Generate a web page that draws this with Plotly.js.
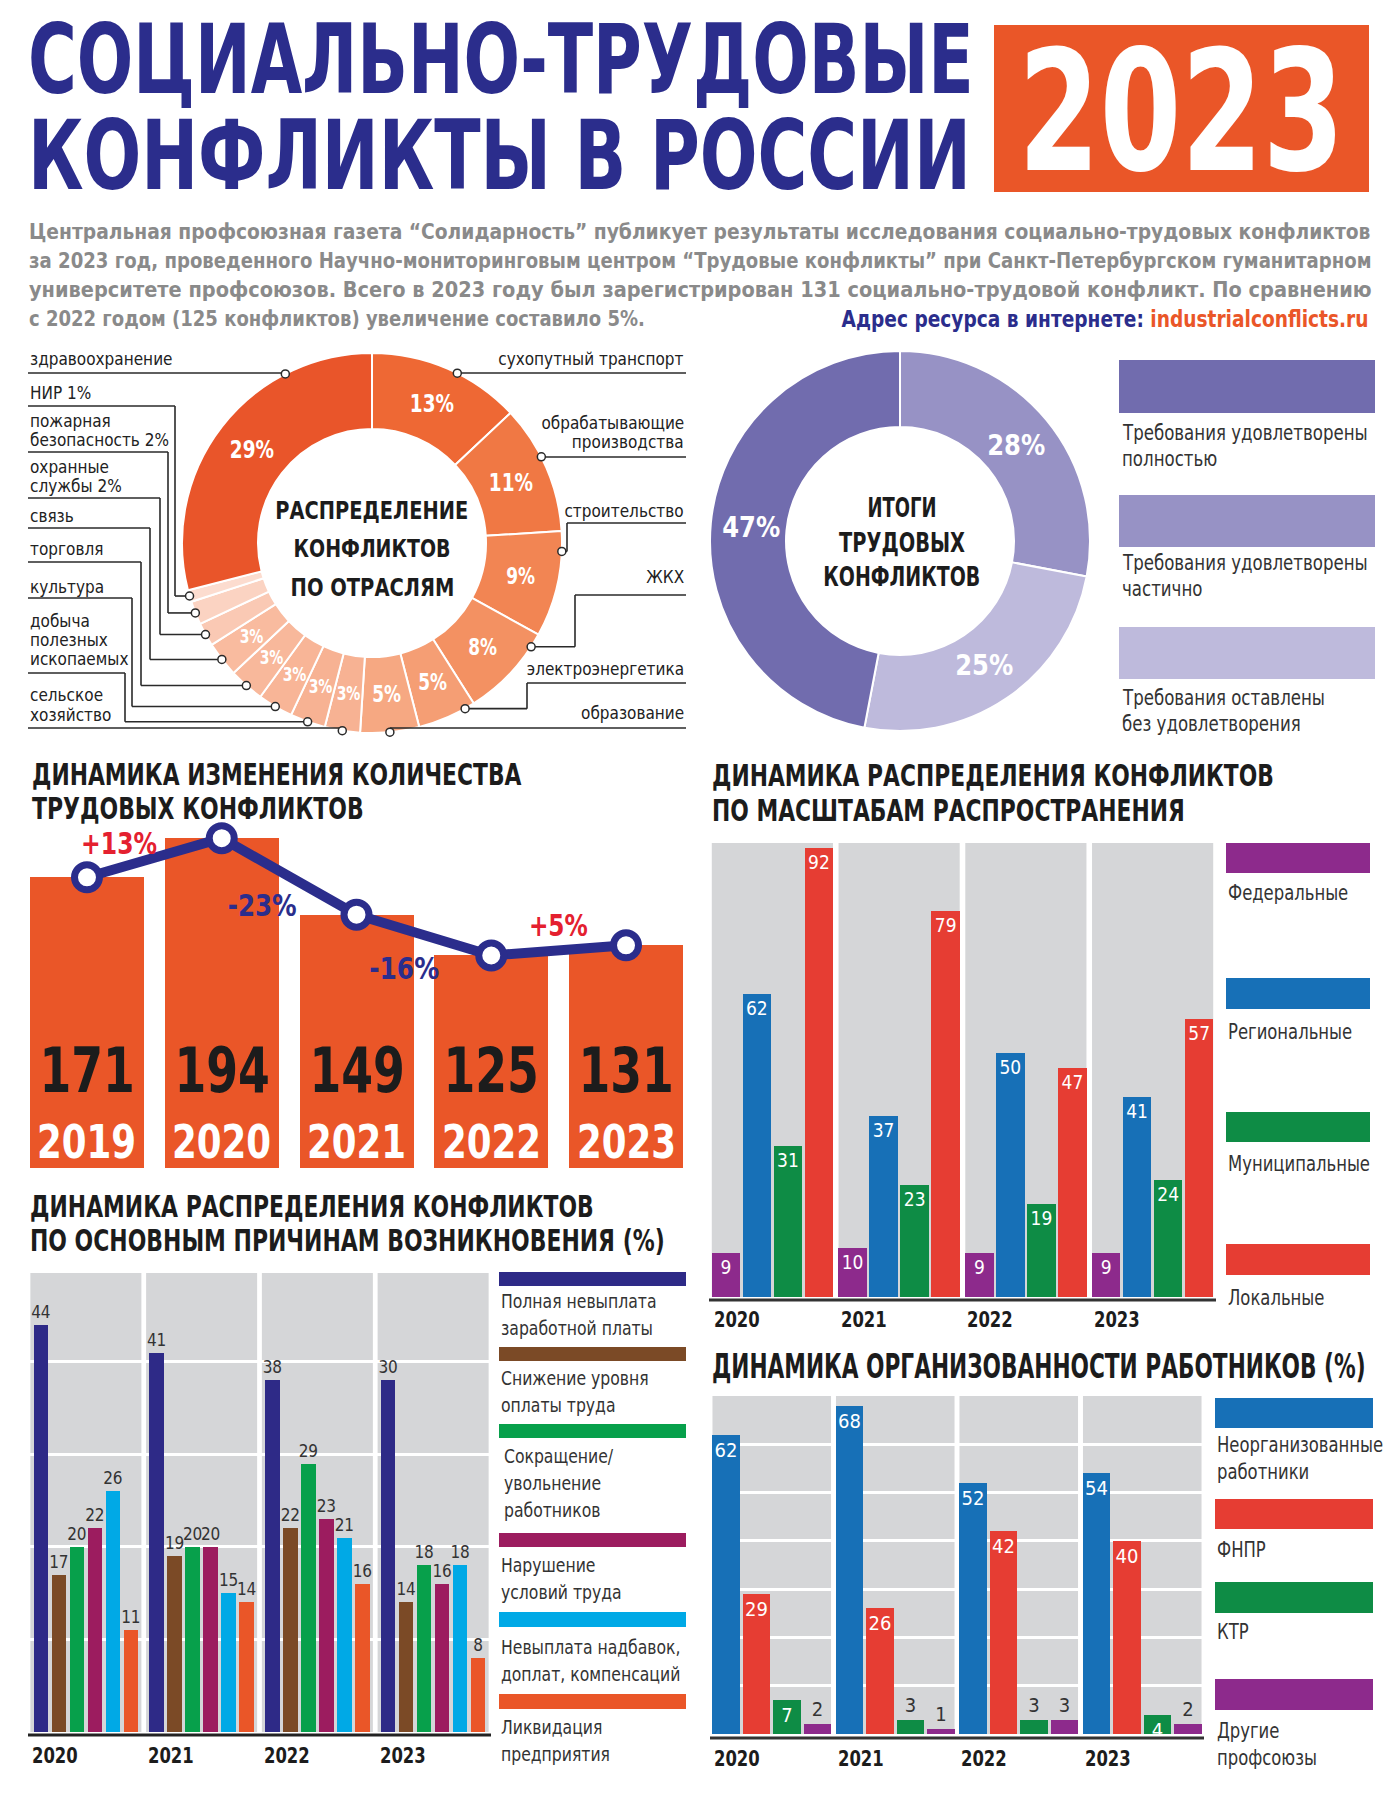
<!DOCTYPE html>
<html><head><meta charset="utf-8">
<script src="https://cdn.plot.ly/plotly-3.0.1.min.js"></script>
<style>html,body{margin:0;padding:0;background:#fff}#chart{width:1400px;height:1800px}</style>
</head><body><div id="chart"></div>
<script>
// ================= DATA =================
const titleLines = ['СОЦИАЛЬНО-ТРУДОВЫЕ', 'КОНФЛИКТЫ В РОССИИ'];
const titleYear = '2023';
const introLines = [
  'Центральная профсоюзная газета “Солидарность” публикует результаты исследования социально-трудовых конфликтов',
  'за 2023 год, проведенного Научно-мониторинговым центром “Трудовые конфликты” при Санкт-Петербургском гуманитарном',
  'университете профсоюзов. Всего в 2023 году был зарегистрирован 131 социально-трудовой конфликт. По сравнению',
  'с 2022 годом (125 конфликтов) увеличение составило 5%.'
];
const siteCaption = 'Адрес ресурса в интернете:';
const siteUrl = 'industrialconflicts.ru';

const sectorTitle = ['РАСПРЕДЕЛЕНИЕ', 'КОНФЛИКТОВ', 'ПО ОТРАСЛЯМ'];
const sectorNames = ['сухопутный транспорт', 'обрабатывающие производства', 'строительство', 'ЖКХ',
  'электроэнергетика', 'образование', 'сельское хозяйство', 'добыча полезных ископаемых', 'культура',
  'торговля', 'связь', 'охранные службы', 'пожарная безопасность', 'НИР', 'здравоохранение'];
const sectorShares = [13, 11, 9, 8, 5, 5, 3, 3, 3, 3, 3, 2, 2, 1, 29];

const outcomeTitle = ['ИТОГИ', 'ТРУДОВЫХ', 'КОНФЛИКТОВ'];
const outcomeNames = ['Требования удовлетворены|полностью', 'Требования удовлетворены|частично', 'Требования оставлены|без удовлетворения'];
const outcomeShares = [47, 28, 25];

const countTitle = ['ДИНАМИКА ИЗМЕНЕНИЯ КОЛИЧЕСТВА', 'ТРУДОВЫХ КОНФЛИКТОВ'];
const countYears = ['2019', '2020', '2021', '2022', '2023'];
const countValues = [171, 194, 149, 125, 131];
const countChanges = ['+13%', '-23%', '-16%', '+5%'];

const scaleTitle = ['ДИНАМИКА РАСПРЕДЕЛЕНИЯ КОНФЛИКТОВ', 'ПО МАСШТАБАМ РАСПРОСТРАНЕНИЯ'];
const scaleYears = ['2020', '2021', '2022', '2023'];
const scaleNames = ['Федеральные', 'Региональные', 'Муниципальные', 'Локальные'];
const scaleFederal = [9, 10, 9, 9];
const scaleRegional = [62, 37, 50, 41];
const scaleMunicipal = [31, 23, 19, 24];
const scaleLocal = [92, 79, 47, 57];

const causeTitle = ['ДИНАМИКА РАСПРЕДЕЛЕНИЯ КОНФЛИКТОВ', 'ПО ОСНОВНЫМ ПРИЧИНАМ ВОЗНИКНОВЕНИЯ (%)'];
const causeYears = ['2020', '2021', '2022', '2023'];
const causeNames = ['Полная невыплата|заработной платы', 'Снижение уровня|оплаты труда', 'Сокращение/|увольнение|работников',
  'Нарушение|условий труда', 'Невыплата надбавок,|доплат, компенсаций', 'Ликвидация|предприятия'];
const causeWageArrears = [44, 41, 38, 30];        // printed values
const causeWageArrearsBar = [44, 41, 38, 38];     // bar heights as drawn in the source (2023 bar reaches the 38 level)
const causeWageCut = [17, 19, 22, 14];
const causeLayoffs = [20, 20, 29, 18];
const causeConditions = [22, 20, 23, 16];
const causeBonuses = [26, 15, 21, 18];
const causeLiquidation = [11, 14, 16, 8];

const orgTitle = 'ДИНАМИКА ОРГАНИЗОВАННОСТИ РАБОТНИКОВ (%)';
const orgYears = ['2020', '2021', '2022', '2023'];
const orgNames = ['Неорганизованные|работники', 'ФНПР', 'КТР', 'Другие|профсоюзы'];
const orgUnorganized = [62, 68, 52, 54];
const orgFNPR = [29, 26, 42, 40];
const orgKTR = [7, 3, 3, 4];
const orgOther = [2, 1, 3, 2];

// ================= STYLE / HELPERS =================
const W = 1400, H = 1800;
const FONT = "'DejaVu Sans Condensed','Liberation Sans Narrow',sans-serif";
const NAVY = '#2b2d8c', ORANGE = '#ea5628', INK = '#1c1c1c', GRAYTXT = '#333333', PANEL = '#d5d6d8';
const px = x => x / W, py = y => 1 - y / H;
const ann = [], fit = [], shapes = [], traces = [];

function pushAnn(a, f) { ann.push(a); fit.push(f || {}); }
function text(x, y, s, o = {}) {
  pushAnn({xref: 'paper', yref: 'paper', x: px(x), y: py(y), text: s, showarrow: false,
    xanchor: o.xa || 'left', yanchor: o.ya || 'middle', align: o.xa || 'left',
    font: {family: FONT, size: o.size || 19, color: o.color || INK, weight: o.weight || 'normal'}},
    {tw: o.tw, sx: o.sx});
}
function textLines(x, y, arr, gap, o, tws) { arr.forEach((s, k) => text(x, y + k * gap, s, Object.assign({}, o, tws ? {tw: tws[k]} : {}))); }
function rect(x0, y0, x1, y1, color) {
  shapes.push({type: 'rect', xref: 'paper', yref: 'paper', x0: px(x0), x1: px(x1), y0: py(y1), y1: py(y0),
    fillcolor: color, line: {width: 0}, layer: 'below'});
}
function seg(x0, y0, x1, y1, color, w) {
  shapes.push({type: 'line', xref: 'paper', yref: 'paper', x0: px(x0), y0: py(y0), x1: px(x1), y1: py(y1),
    line: {color: color, width: w}, layer: 'above'});
}
function dot(x, y, r) {
  shapes.push({type: 'circle', xref: 'paper', yref: 'paper', x0: px(x - r), x1: px(x + r), y0: py(y + r), y1: py(y - r),
    fillcolor: '#ffffff', line: {color: '#2a2a2a', width: 1.5}, layer: 'above'});
}
function polar(cx, cy, r, deg) { const a = deg * Math.PI / 180; return [cx + r * Math.sin(a), cy - r * Math.cos(a)]; }
function sliceAngles(vals) {
  const tot = vals.reduce((a, b) => a + b, 0); let c = 0;
  return vals.map(v => { const s = c / tot * 360; c += v; return [s, c / tot * 360]; });
}

// ================= HEADER =================
rect(994, 25, 1369, 192, ORANGE);
text(26, 59, titleLines[0], {size: 97, weight: 'bold', color: NAVY, tw: 946});
text(26, 155, titleLines[1], {size: 97, weight: 'bold', color: NAVY, tw: 943});
text(1181, 112, titleYear, {xa: 'center', size: 168, weight: 'bold', color: '#ffffff', tw: 326});
[232, 261, 290].forEach((y, k) => text(27, y, introLines[k], {size: 21, weight: 'bold', color: '#8a8a8a', tw: 1343}));
text(27, 319, introLines[3], {size: 21, weight: 'bold', color: '#8a8a8a', tw: 616});
text(1371, 319, '<span style="color:' + NAVY + '">' + siteCaption + ' </span><span style="color:' + ORANGE + '">' + siteUrl + '</span>',
  {xa: 'right', size: 23, weight: 'bold', tw: 527});

// ================= SECTOR DONUT =================
const sc = {cx: 372, cy: 543, R: 190};
const sectorColors = ['#ee6834', '#f07844', '#f28553', '#f39162', '#f59e74', '#f6a882', '#f7b293', '#f7b293',
  '#f8b597', '#f8b89b', '#f9bb9f', '#fac9b4', '#fbd3c2', '#fcdccf', '#e9552a'];
traces.push({type: 'pie', values: sectorShares, labels: sectorNames, sort: false, direction: 'clockwise', rotation: 0,
  hole: 0.6, textinfo: 'none', hoverinfo: 'label+percent', showlegend: false,
  marker: {colors: sectorColors, line: {color: '#ffffff', width: 2}},
  domain: {x: [px(sc.cx - sc.R), px(sc.cx + sc.R)], y: [py(sc.cy + sc.R), py(sc.cy - sc.R)]}});
const secAng = sliceAngles(sectorShares);
sectorShares.forEach((v, i) => {
  if (v < 3) return;
  const [x, y] = polar(sc.cx, sc.cy, sc.R * 0.8, (secAng[i][0] + secAng[i][1]) / 2);
  text(x, y, v + '%', {xa: 'center', size: v >= 10 ? 25 : (v >= 5 ? 23 : 19), weight: 'bold', color: '#ffffff', sx: 0.82});
});
textLines(sc.cx, 510, sectorTitle, 38.5, {xa: 'center', size: 25, weight: 'bold'}, [193, 157, 164]);
// leader lines: slice index, side, first text line y, leader y, bend x, position inside slice, word breaks
const leaders = [
  {i: 14, side: 'L', ty: 358, ly: 373, bx: null, f: 0.74, br: []},
  {i: 13, side: 'L', ty: 393, ly: 406, bx: 175, f: 0.5, br: []},
  {i: 12, side: 'L', ty: 420, ly: 452, bx: 168, f: 0.5, br: [1]},
  {i: 11, side: 'L', ty: 466, ly: 498, bx: 160, f: 0.5, br: [1]},
  {i: 10, side: 'L', ty: 516, ly: 528, bx: 150, f: 0.5, br: []},
  {i: 9, side: 'L', ty: 549, ly: 562, bx: 141, f: 0.5, br: []},
  {i: 8, side: 'L', ty: 586, ly: 598, bx: 132, f: 0.5, br: []},
  {i: 7, side: 'L', ty: 620, ly: 673, bx: 125, f: 0.5, br: [1, 2]},
  {i: 6, side: 'L', ty: 695, ly: 728, bx: null, f: 0.5, br: [1]},
  {i: 0, side: 'R', ty: 358, ly: 373, bx: null, f: 0.57, br: []},
  {i: 1, side: 'R', ty: 422, ly: 457, bx: null, f: 0.41, br: [1]},
  {i: 2, side: 'R', ty: 510, ly: 523, bx: 567, f: 0.19, br: []},
  {i: 3, side: 'R', ty: 577, ly: 595, bx: 575, f: 0.15, br: []},
  {i: 4, side: 'R', ty: 668, ly: 683, bx: 527, f: 0.17, br: []},
  {i: 5, side: 'R', ty: 712, ly: 728, bx: null, f: 0.5, br: []}
];
leaders.forEach(L => {
  const v = sectorShares[L.i];
  const words = (sectorNames[L.i] + (v < 3 ? ' ' + v + '%' : '')).split(' ');
  const lines = []; let cur = [];
  words.forEach((w, k) => { cur.push(w); if (L.br.includes(k + 1)) { lines.push(cur.join(' ')); cur = []; } });
  if (cur.length) lines.push(cur.join(' '));
  const xs = L.side === 'L' ? 28 : 686;
  textLines(xs, L.ty, lines, 19.5, {xa: L.side === 'L' ? 'left' : 'right', size: 18.5, color: '#222', sx: 0.92});
  const a = secAng[L.i][0] + L.f * (secAng[L.i][1] - secAng[L.i][0]);
  const [dx, dy] = polar(sc.cx, sc.cy, sc.R, a);
  const bx = L.bx === null ? dx : L.bx;
  seg(xs, L.ly, bx, L.ly, '#2a2a2a', 1.6);
  if (Math.abs(dy - L.ly) > 0.5) seg(bx, L.ly, bx, dy, '#2a2a2a', 1.6);
  if (Math.abs(bx - dx) > 0.5) seg(bx, dy, dx, dy, '#2a2a2a', 1.6);
  dot(dx, dy, 4);
});

// ================= OUTCOME DONUT =================
const oc = {cx: 900, cy: 541, R: 190};
const outcomeColors = ['#716cae', '#9792c5', '#bebadc'];
const pieOrder = [1, 2, 0];   // clockwise from 12 o'clock as in the source
traces.push({type: 'pie', values: pieOrder.map(k => outcomeShares[k]), labels: pieOrder.map(k => outcomeNames[k].replace('|', ' ')),
  sort: false, direction: 'clockwise', rotation: 0, hole: 0.6, textinfo: 'none', hoverinfo: 'label+percent', showlegend: false,
  marker: {colors: pieOrder.map(k => outcomeColors[k]), line: {color: '#ffffff', width: 2}},
  domain: {x: [px(oc.cx - oc.R), px(oc.cx + oc.R)], y: [py(oc.cy + oc.R), py(oc.cy - oc.R)]}});
const outAng = sliceAngles(pieOrder.map(k => outcomeShares[k]));
pieOrder.forEach((k, j) => {
  const [x, y] = polar(oc.cx, oc.cy, oc.R * 0.79, (outAng[j][0] + outAng[j][1]) / 2);
  text(x, y, outcomeShares[k] + '%', {xa: 'center', size: 29, weight: 'bold', color: '#ffffff', tw: 58});
});
textLines(902, 508, outcomeTitle, 34.5, {xa: 'center', size: 26, weight: 'bold'}, [69, 126, 157]);
[[360, 413, 433], [495, 547, 563], [627, 679, 698]].forEach((b, k) => {
  rect(1119, b[0], 1375, b[1], outcomeColors[k]);
  textLines(1120, b[2], outcomeNames[k].split('|'), 26, {size: 21, color: GRAYTXT, sx: 0.88});
});

// ================= COUNT DYNAMICS =================
textLines(30, 774, countTitle, 34, {size: 31, weight: 'bold'}, [490, 332]);
traces.push({type: 'bar', x: countYears, y: countValues, xaxis: 'x', yaxis: 'y', width: 0.846,
  marker: {color: ORANGE}, hoverinfo: 'x+y', showlegend: false});
traces.push({type: 'scatter', mode: 'lines+markers', x: countYears, y: countValues, xaxis: 'x', yaxis: 'y', cliponaxis: false,
  line: {color: NAVY, width: 10}, marker: {size: 25, color: '#ffffff', line: {color: NAVY, width: 7}},
  hoverinfo: 'skip', showlegend: false});
countYears.forEach((yr, k) => {
  pushAnn({xref: 'x', yref: 'paper', x: k, y: py(1070), text: String(countValues[k]), showarrow: false, xanchor: 'center', yanchor: 'middle',
    font: {family: FONT, size: 62, weight: 'bold', color: INK}}, {sx: 0.82});
  pushAnn({xref: 'x', yref: 'paper', x: k, y: py(1142), text: yr, showarrow: false, xanchor: 'center', yanchor: 'middle',
    font: {family: FONT, size: 46, weight: 'bold', color: '#ffffff'}}, {sx: 0.86});
});
const changePos = [[0.24, 843], [1.30, 905], [2.35, 968], [3.50, 925]];
const changeW = [76, 69, 70, 59];
countChanges.forEach((c, k) => {
  pushAnn({xref: 'x', yref: 'paper', x: changePos[k][0], y: py(changePos[k][1]), text: c, showarrow: false,
    xanchor: 'center', yanchor: 'middle', font: {family: FONT, size: 31, weight: 'bold', color: c[0] === '+' ? '#e4202f' : NAVY}},
    {tw: changeW[k]});
});

// ================= GROUPED PANEL CHARTS =================
function panels(xa, ya, n, half) {
  for (let i = 0; i < n; i++) shapes.push({type: 'rect', xref: xa, yref: ya + ' domain', x0: i - half, x1: i + half, y0: 0, y1: 1,
    fillcolor: PANEL, line: {width: 0}, layer: 'below'});
}
function groupBars(xa, ya, years, series, colors, width, pitch, textOpts) {
  const first = -(pitch * (series.length - 1) + width) / 2;
  series.forEach((s, k) => {
    const t = {type: 'bar', x: years, y: s.y, xaxis: xa, yaxis: ya, width: width, offset: first + k * pitch,
      marker: {color: colors[k]}, text: s.labels.map(String), textangle: 0, constraintext: 'none', cliponaxis: false,
      hoverinfo: 'x+y', showlegend: false};
    Object.assign(t, textOpts(s));
    traces.push(t);
  });
}
function yearLabels(xa, years, half, y) {
  years.forEach((yr, i) => pushAnn({xref: xa, yref: 'paper', x: i - half, y: py(y), text: yr, showarrow: false,
    xanchor: 'left', yanchor: 'middle', align: 'left', font: {family: FONT, size: 21, weight: 'bold', color: INK}}, {sx: 0.87}));
}

// --- scale chart
textLines(710, 775, scaleTitle, 35, {size: 31, weight: 'bold'}, [562, 473]);
const scaleColors = ['#8d2a8c', '#1770b7', '#0e8c45', '#e63d33'];
panels('x2', 'y2', 4, 0.478);
groupBars('x2', 'y2', scaleYears,
  [scaleFederal, scaleRegional, scaleMunicipal, scaleLocal].map(a => ({y: a, labels: a})), scaleColors, 0.225, 0.2446,
  () => ({textposition: 'inside', insidetextanchor: 'end', insidetextfont: {family: FONT, size: 19, color: '#ffffff'}}));
seg(709, 1300, 1216, 1300, '#333333', 3);
yearLabels('x2', scaleYears, 0.478, 1320);
[[843, 873, 893], [978, 1009, 1032], [1112, 1142, 1164], [1244, 1275, 1298]].forEach((b, k) => {
  rect(1226, b[0], 1370, b[1], scaleColors[k]);
  text(1226, b[2], scaleNames[k], {size: 21, color: GRAYTXT, sx: 0.87});
});

// --- causes chart
textLines(28, 1206, causeTitle, 34, {size: 31, weight: 'bold'}, [564, 635]);
const causeColors = ['#2e2a87', '#7b4a26', '#07a04b', '#9c1c5f', '#00a9e6', '#ea5628'];
panels('x3', 'y3', 4, 0.4795);
groupBars('x3', 'y3', causeYears,
  [{y: causeWageArrearsBar, labels: causeWageArrears}, {y: causeWageCut, labels: causeWageCut}, {y: causeLayoffs, labels: causeLayoffs},
   {y: causeConditions, labels: causeConditions}, {y: causeBonuses, labels: causeBonuses}, {y: causeLiquidation, labels: causeLiquidation}],
  causeColors, 0.124, 0.1555,
  () => ({textposition: 'outside', outsidetextfont: {family: FONT, size: 17, color: GRAYTXT}}));
seg(28, 1735, 491, 1735, '#222222', 3);
yearLabels('x3', causeYears, 0.4795, 1756);
[[1272, 1286, 1301], [1347, 1361, 1378], [1424, 1438, 1456], [1533, 1547, 1565], [1612, 1627, 1647], [1694, 1709, 1727]].forEach((b, k) => {
  rect(499, b[0], 686, b[1], causeColors[k]);
  textLines(k === 2 ? 502 : 499, b[2], causeNames[k].split('|'), 27, {size: 20, color: GRAYTXT, sx: 0.87});
});

// --- organisation chart
text(710, 1366, orgTitle, {size: 33, weight: 'bold', tw: 654});
const orgColors = ['#1770b7', '#e63d33', '#0e8c45', '#8d2a8c'];
panels('x4', 'y4', 4, 0.48);
groupBars('x4', 'y4', orgYears,
  [orgUnorganized, orgFNPR, orgKTR, orgOther].map(a => ({y: a, labels: a})), orgColors, 0.223, 0.247,
  s => ({textposition: s.y.map(v => v >= 4 ? 'inside' : 'outside'), insidetextanchor: 'end',
    insidetextfont: {family: FONT, size: 20, color: '#ffffff'}, outsidetextfont: {family: FONT, size: 20, color: GRAYTXT}}));
seg(710, 1738, 1204, 1738, '#333333', 3);
yearLabels('x4', orgYears, 0.48, 1759);
[[1398, 1428, 1445], [1499, 1529, 1550], [1582, 1613, 1632], [1679, 1710, 1731]].forEach((b, k) => {
  rect(1215, b[0], 1373, b[1], orgColors[k]);
  textLines(1215, b[2], orgNames[k].split('|'), 27, {size: 21, color: GRAYTXT, sx: 0.87});
});

// ================= LAYOUT =================
const hid = {showgrid: false, zeroline: false, showline: false, showticklabels: false, ticks: '', fixedrange: true};
const layout = {
  width: W, height: H, margin: {l: 0, r: 0, t: 0, b: 0}, paper_bgcolor: '#ffffff', plot_bgcolor: 'rgba(0,0,0,0)',
  showlegend: false, barmode: 'group', bargap: 0, font: {family: FONT},
  xaxis: Object.assign({}, hid, {type: 'category', domain: [px(19.6), px(693.4)], anchor: 'y', range: [-0.5, 4.5]}),
  yaxis: Object.assign({}, hid, {domain: [py(1168), py(820)], anchor: 'x', range: [0, 204.7]}),
  xaxis2: Object.assign({}, hid, {type: 'category', domain: [px(709), px(1216)], anchor: 'y2', range: [-0.5, 3.5]}),
  yaxis2: Object.assign({}, hid, {domain: [py(1297), py(843)], anchor: 'x2', range: [0, 93]}),
  xaxis3: Object.assign({}, hid, {type: 'category', domain: [px(28), px(491)], anchor: 'y3', range: [-0.5, 3.5]}),
  yaxis3: Object.assign({}, hid, {domain: [py(1732), py(1273)], anchor: 'x3', range: [0, 49.6],
    showgrid: true, gridcolor: '#ffffff', gridwidth: 3, dtick: 10, tick0: 0}),
  xaxis4: Object.assign({}, hid, {type: 'category', domain: [px(710), px(1204)], anchor: 'y4', range: [-0.5, 3.5]}),
  yaxis4: Object.assign({}, hid, {domain: [py(1734), py(1396)], anchor: 'x4', range: [0, 70],
    showgrid: true, gridcolor: '#ffffff', gridwidth: 3, dtick: 10, tick0: 0}),
  shapes: shapes, annotations: ann
};

// narrow the condensed face horizontally to the width of the source's narrow type
function narrowTexts(gd) {
  gd.querySelectorAll('g.annotation').forEach(g => {
    const i = +g.getAttribute('data-index');
    const f = fit[i] || {};
    const t = g.querySelector('text.annotation-text');
    if (!t) return;
    const w = t.getBBox().width;
    const s = f.tw ? f.tw / w : (f.sx || 0.87);
    const x = parseFloat(t.getAttribute('x')) || 0;
    t.setAttribute('transform', 'translate(' + x + ' 0) scale(' + s + ' 1) translate(' + (-x) + ' 0)');
  });
}
Plotly.newPlot('chart', traces, layout, {displayModeBar: false, staticPlot: true}).then(narrowTexts);
</script></body></html>
